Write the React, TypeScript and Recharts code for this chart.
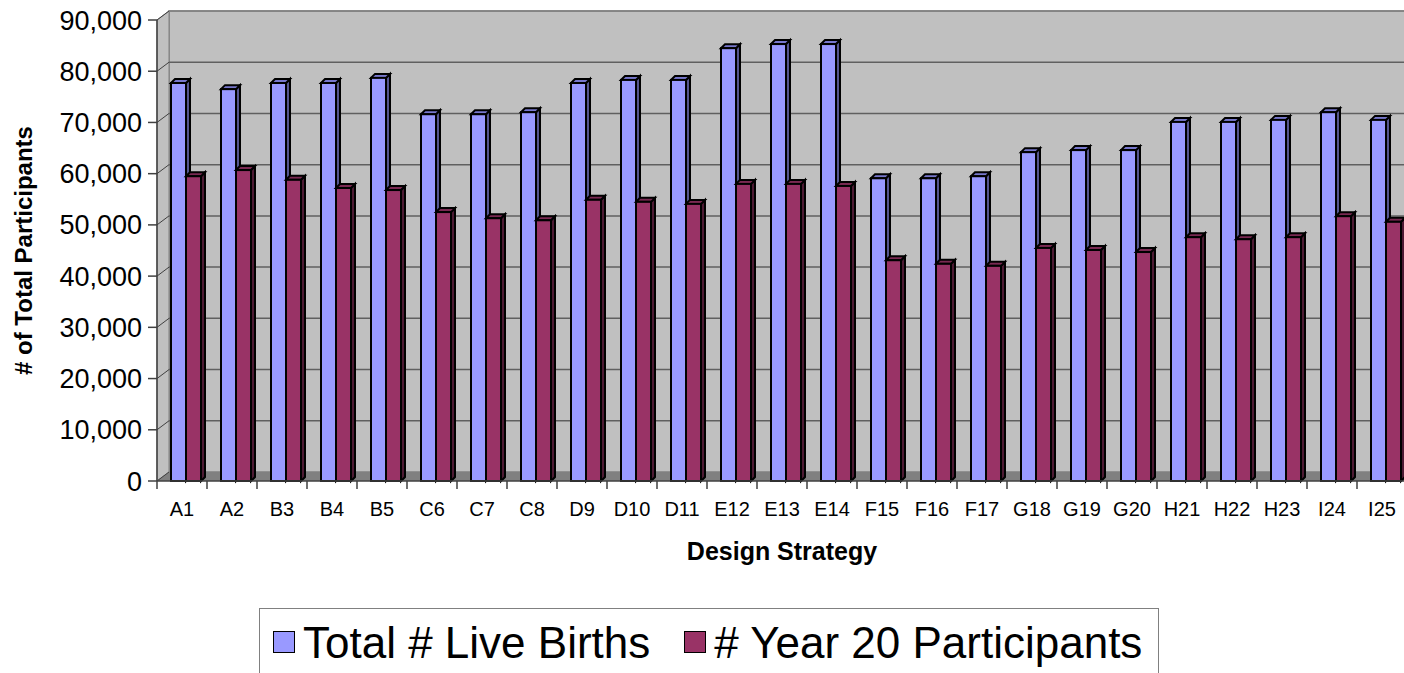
import { BarChart, Bar, XAxis, YAxis, CartesianGrid, ReferenceArea } from 'recharts';

// ---------------------------------------------------------------------------
// Data
// ---------------------------------------------------------------------------

const strategies = [
  'A1', 'A2', 'B3', 'B4', 'B5', 'C6', 'C7', 'C8', 'D9', 'D10', 'D11', 'E12', 'E13',
  'E14', 'F15', 'F16', 'F17', 'G18', 'G19', 'G20', 'H21', 'H22', 'H23', 'I24', 'I25',
];

const liveBirths = [
  77700, 76500, 77700, 77700, 78700, 71600, 71600, 72000, 77700, 78300, 78300, 84500, 85300,
  85300, 59100, 59100, 59500, 64200, 64600, 64600, 70100, 70100, 70500, 72000, 70500,
];

const year20 = [
  59500, 60700, 58800, 57200, 56800, 52500, 51300, 50900, 54900, 54500, 54100, 58000, 58000,
  57600, 43100, 42400, 42000, 45500, 45100, 44700, 47600, 47200, 47600, 51700, 50600,
];

const yTicks = [0, 10000, 20000, 30000, 40000, 50000, 60000, 70000, 80000, 90000];

const chartData = strategies.map((s, i) => ({ s, births: liveBirths[i], y20: year20[i] }));

// ---------------------------------------------------------------------------
// Layout / style constants
// ---------------------------------------------------------------------------

const FONT = '"Liberation Sans", Arial, sans-serif';
const PLOT_LEFT = 157;
const PLOT_W = 1250;
const CHART_W = 1430;
const CHART_H = 673;
const BAND = PLOT_W / strategies.length;
const DX = 12; // wall depth
const DY = 9;
const BAR_D = 4; // bar depth
const BAR_SHIFT = 4;

// ---------------------------------------------------------------------------
// 3D pieces
// ---------------------------------------------------------------------------

function Walls(props: any) {
  const { x, y, width, height } = props;
  const b = y + height;
  return (
    <g>
      <rect x={x + DX} y={y - DY} width={width} height={height} fill="#c0c0c0" stroke="#808080" strokeWidth={1.5} />
      <polygon
        points={`${x},${y} ${x + DX},${y - DY} ${x + DX},${b - DY} ${x},${b}`}
        fill="#c0c0c0"
        stroke="#808080"
        strokeWidth={1}
      />
      <polygon
        points={`${x},${b} ${x + DX},${b - DY} ${x + width + DX},${b - DY} ${x + width},${b}`}
        fill="#808080"
      />
    </g>
  );
}

function GridLine(props: any) {
  const { x1, y1, x2, index } = props;
  const isZero = Math.abs(y1 - 481) < 2;
  const isTop = index === yTicks.length - 1 || y1 < 25;
  return (
    <g key={`g-${index}`}>
      {!isZero && (
        <line
          x1={x1 + DX}
          y1={y1 - DY}
          x2={x2 + DX}
          y2={y1 - DY}
          stroke={isTop ? '#808080' : '#606060'}
          strokeWidth={1.5}
        />
      )}
      <line x1={x1} y1={y1} x2={x1 + DX} y2={y1 - DY} stroke="#404040" strokeWidth={1} />
    </g>
  );
}

const make3DBar = (front: string, top: string, side: string) =>
  function Bar3D(props: any) {
    const { y, width, height } = props;
    if (!height || height <= 0) return null;
    const x = props.x + BAR_SHIFT;
    const b = y + height;
    return (
      <g stroke="#000" strokeWidth={2} strokeLinejoin="miter">
        <polygon
          points={`${x + width},${y} ${x + width + BAR_D},${y - BAR_D} ${x + width + BAR_D},${b - BAR_D} ${x + width},${b}`}
          fill={side}
        />
        <polygon
          points={`${x},${y} ${x + BAR_D},${y - BAR_D} ${x + width + BAR_D},${y - BAR_D} ${x + width},${y}`}
          fill={top}
        />
        <rect x={x} y={y} width={width} height={height} fill={front} />
      </g>
    );
  };

const BlueBar = make3DBar('#9999ff', '#7777cc', '#55558f');
const RedBar = make3DBar('#993366', '#7a2952', '#4d1a33');

function XTick(props: any) {
  const { x, y, payload } = props;
  return (
    <g>
      <line x1={x - BAND / 2} y1={y} x2={x - BAND / 2} y2={y + 8} stroke="#404040" strokeWidth={1.5} />
      <text x={x} y={y + 35} textAnchor="middle" fontSize={20} fontFamily={FONT} fill="#000">
        {payload.value}
      </text>
    </g>
  );
}

function YTitle(props: any) {
  const vb = props.viewBox || {};
  const cy = (vb.y ?? 20) + (vb.height ?? 461) / 2;
  return (
    <text
      x={32}
      y={cy}
      transform={`rotate(-90, 32, ${cy})`}
      textAnchor="middle"
      fontSize={24}
      fontWeight="bold"
      fontFamily={FONT}
      fill="#000"
    >
      # of Total Participants
    </text>
  );
}

function XTitle(props: any) {
  const vb = props.viewBox || {};
  const cx = (vb.x ?? PLOT_LEFT) + (vb.width ?? PLOT_W) / 2;
  const y = (vb.y ?? 481) + 79;
  return (
    <text x={cx} y={y} textAnchor="middle" fontSize={25} fontWeight="bold" fontFamily={FONT} fill="#000">
      Design Strategy
    </text>
  );
}

function LegendBox() {
  const item = (color: string, label: string, gap: number) => (
    <div style={{ display: 'flex', alignItems: 'center', marginRight: gap }}>
      <div
        style={{
          width: 20,
          height: 20,
          background: color,
          border: '1px solid #000',
          marginRight: 8,
          marginTop: -2,
        }}
      />
      <span>{label}</span>
    </div>
  );
  return (
    <div
      style={{
        position: 'absolute',
        left: 259,
        top: 608,
        width: 900,
        height: 80,
        boxSizing: 'border-box',
        border: '1.5px solid #808080',
        background: '#fff',
        display: 'flex',
        alignItems: 'flex-start',
        paddingLeft: 13,
        paddingTop: 9,
        fontFamily: FONT,
        fontSize: 44,
        lineHeight: '50px',
        color: '#000',
        whiteSpace: 'nowrap',
      }}
    >
      {item('#9999ff', 'Total # Live Births', 34)}
      {item('#993366', '# Year 20 Participants', 0)}
    </div>
  );
}

export default function App() {
  return (
    <div
      style={{
        position: 'absolute',
        left: 0,
        top: 0,
        width: 1404,
        height: 673,
        overflow: 'hidden',
        background: '#fff',
      }}
    >
      <BarChart
        width={CHART_W}
        height={CHART_H}
        data={chartData}
        margin={{ top: 20, right: CHART_W - PLOT_LEFT - PLOT_W, left: 0, bottom: 92 }}
        barGap={0}
        barSize={15}
      >
        <ReferenceArea y1={0} y2={90000} shape={Walls} ifOverflow="visible" zIndex={-200} />
        <CartesianGrid vertical={false} horizontal={GridLine} zIndex={-100} />
        <XAxis
          dataKey="s"
          height={100}
          tickSize={0}
          tickMargin={0}
          interval={0}
          tick={XTick}
          axisLine={{ stroke: '#404040', strokeWidth: 1.5 }}
          tickLine={false}
          label={<XTitle />}
        />
        <YAxis
          width={PLOT_LEFT}
          domain={[0, 90000]}
          ticks={yTicks}
          interval={0}
          tickSize={9}
          tickMargin={6}
          tickFormatter={(v: number) => v.toLocaleString('en-US')}
          tick={{ fontSize: 27, fill: '#000', fontFamily: FONT }}
          tickLine={{ stroke: '#404040', strokeWidth: 1.5 }}
          axisLine={{ stroke: '#404040', strokeWidth: 1.5 }}
          label={<YTitle />}
        />
        <Bar dataKey="births" fill="#9999ff" shape={BlueBar} isAnimationActive={false} />
        <Bar dataKey="y20" fill="#993366" shape={RedBar} isAnimationActive={false} />
      </BarChart>
      <LegendBox />
    </div>
  );
}
